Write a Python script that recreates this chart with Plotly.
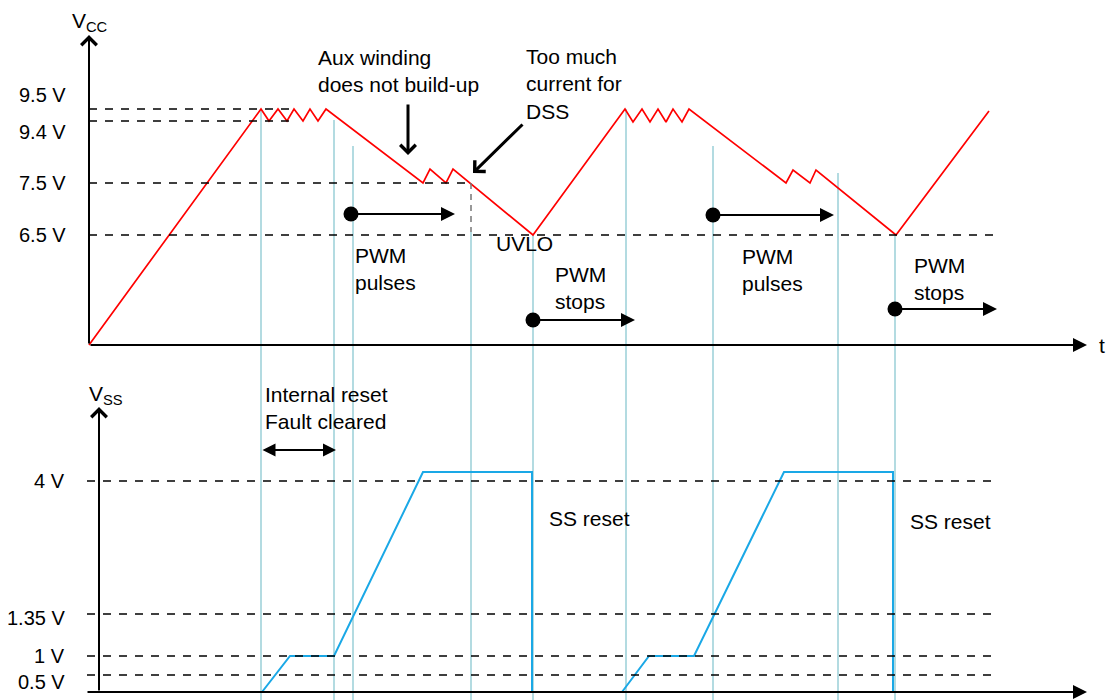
import plotly.graph_objects as go

# Schematic timing diagram: VCC (top) and VSS (bottom) versus time.
# Heights are diagram units (not to scale), the tick labels give the volt levels.

# --- VCC trace (top panel) ---
vcc_t = [0, 17.2, 18.0, 18.9, 19.8, 20.5, 21.4, 22.1, 22.9, 23.7,
         33.4, 34.1, 35.7, 36.4, 44.4,
         53.6, 54.4, 55.3, 56.1, 56.9, 57.7, 58.4, 59.3, 60.0,
         69.7, 70.4, 72.1, 72.7, 80.7, 90.0]
vcc_h = [0, 23.6, 22.4, 23.6, 22.4, 23.6, 22.4, 23.6, 22.4, 23.6,
         16.2, 17.6, 16.2, 17.6, 11.0,
         23.6, 22.3, 23.6, 22.3, 23.6, 22.3, 23.6, 22.3, 23.6,
         16.2, 17.5, 16.2, 17.5, 11.0, 23.4]

# --- VSS trace (bottom panel), two soft-start cycles ---
vss_t = [17.3, 20.1, 24.5, 33.4, 44.3, 44.3, None,
         53.3, 56.0, 60.5, 69.5, 80.4, 80.4]
vss_h = [0, 3.6, 3.6, 22.0, 22.0, 0, None,
         0, 3.6, 3.6, 22.0, 22.0, 0]

# level ticks
vcc_levels = [23.6, 22.4, 16.2, 11.0]
vcc_level_text = ["9.5 V", "9.4 V", "7.5 V", "6.5 V"]
vcc_level_end = [20.5, 20.5, 38.1, 91.0]
vss_levels = [21.1, 7.8, 3.6, 1.7]
vss_level_text = ["4 V", "1.35 V", "1 V", "0.5 V"]

# event markers (light blue verticals): time and top of line
event_t = [17.2, 24.5, 26.4, 38.2, 44.4, 53.7, 62.4, 74.9, 80.6]
event_top = [23.6, 22.5, 19.9, 11.3, 11.0, 23.6, 19.9, 17.2, 11.0]

# PWM state arrows: start, end, height
pwm_start = [26.2, 62.4, 44.4, 80.6]
pwm_end = [36.6, 74.5, 54.6, 90.8]
pwm_h = [13.1, 13.0, 2.5, 3.6]

FONT = "Liberation Sans, Arial, Helvetica, sans-serif"
RED = "#ff0000"
BLUE = "#1aa8e6"
PALE = "#b3dbe1"
X_RANGE = [-8.1, 103.3]
TOP_RANGE = [-36.3, 33.7]
BOT_RANGE = [-1.6, 68.4]

fig = go.Figure()
shapes = []
ann = []

for t, top in zip(event_t, event_top):
    shapes.append(dict(type="line", xref="x", yref="y", x0=t, x1=t, y0=top,
                       y1=TOP_RANGE[0], line=dict(color=PALE, width=2), layer="below"))

# dashed level lines
for lv, end in zip(vcc_levels, vcc_level_end):
    shapes.append(dict(type="line", xref="x", yref="y", x0=0, x1=end, y0=lv, y1=lv,
                       line=dict(color="black", width=1.5, dash="8px,8px")))
for lv in vss_levels:
    shapes.append(dict(type="line", xref="x", yref="y2", x0=-0.2, x1=90.6, y0=lv, y1=lv,
                       line=dict(color="black", width=1.5, dash="8px,8px")))
shapes.append(dict(type="line", xref="x", yref="y", x0=38.2, x1=38.2, y0=16.2, y1=11.3,
                   line=dict(color="#777777", width=1.5, dash="6px,5px")))

# traces
fig.add_trace(go.Scatter(x=vcc_t, y=vcc_h, mode="lines", yaxis="y",
                         line=dict(color=RED, width=1.7), hoverinfo="skip"))
fig.add_trace(go.Scatter(x=vss_t, y=vss_h, mode="lines", yaxis="y2",
                         line=dict(color=BLUE, width=2), hoverinfo="skip"))
fig.add_trace(go.Scatter(x=pwm_start, y=pwm_h, mode="markers", yaxis="y",
                         marker=dict(color="black", size=15), hoverinfo="skip"))


def arrow(x0, y0, x1, y1, yref="y", head=2, width=2, size=1.4, side="end"):
    ann.append(dict(x=x1, y=y1, ax=x0, ay=y0, xref="x", yref=yref, axref="x",
                    ayref=yref, text="", showarrow=True, arrowhead=head,
                    arrowwidth=width, arrowsize=size, arrowside=side,
                    arrowcolor="black", standoff=0, startstandoff=0))


def label(x, y, text, yref="y", xanchor="left", yshift=0, size=21):
    ann.append(dict(x=x, y=y, xref="x", yref=yref, text=text, showarrow=False,
                    xanchor=xanchor, yanchor="middle", yshift=yshift,
                    font=dict(family=FONT, size=size, color="black"), align="left"))


# axes
arrow(0, 0, 0, 31.0, head=4, width=2, size=1.5)
arrow(0, 0, 99.8, 0, head=2, width=2, size=1.4)
arrow(1.0, 0, 1.0, 28.5, yref="y2", head=4, width=2, size=1.5)
arrow(-0.3, 0, 99.8, 0, yref="y2", head=2, width=2, size=1.4)

# PWM arrows
for s, e, h in zip(pwm_start, pwm_end, pwm_h):
    arrow(s, h, e, h, head=2, width=2, size=1.4)

# pointer arrows
arrow(31.9, 24.2, 31.9, 19.0, head=4, width=3, size=1.0)
arrow(43.5, 22.2, 38.4, 17.2, head=4, width=3, size=1.0)
arrow(17.2, 24.2, 24.7, 24.2, yref="y2", head=2, width=2, size=1.3, side="end+start")

# level labels
shift_top = [14, -11, 0, 0]
for lv, txt, sh in zip(vcc_levels, vcc_level_text, shift_top):
    label(-2.1, lv, txt, xanchor="right", yshift=sh, size=20)
shift_bot = [0, -4, 0, -7]
for lv, txt, sh in zip(vss_levels, vss_level_text, shift_bot):
    label(-2.2, lv, txt, yref="y2", xanchor="right", yshift=sh, size=20)

label(-1.9, 32.3, "V<sub>CC</sub>")
label(-0.2, 29.7, "V<sub>SS</sub>", yref="y2")
label(100.8, 0, "t")
label(101.7, 0, "t", yref="y2")
label(22.7, 27.4, "Aux winding<br>does not build-up")
label(43.5, 26.1, "Too much<br>current for<br>DSS")
label(40.5, 10.2, "UVLO")
label(26.4, 7.6, "PWM<br>pulses")
label(65.1, 7.5, "PWM<br>pulses")
label(46.4, 5.7, "PWM<br>stops")
label(82.3, 6.6, "PWM<br>stops")
label(17.4, 28.4, "Internal reset<br>Fault cleared", yref="y2")
label(45.8, 17.4, "SS reset", yref="y2")
label(81.9, 17.1, "SS reset", yref="y2")

fig.update_layout(
    width=1114, height=700,
    margin=dict(l=0, r=0, t=0, b=0),
    paper_bgcolor="white", plot_bgcolor="white",
    showlegend=False,
    xaxis=dict(range=X_RANGE, visible=False, fixedrange=True),
    yaxis=dict(range=TOP_RANGE, visible=False, fixedrange=True),
    yaxis2=dict(range=BOT_RANGE, visible=False, fixedrange=True, overlaying="y"),
    shapes=shapes,
    annotations=ann,
)

fig.write_html("out.html")
